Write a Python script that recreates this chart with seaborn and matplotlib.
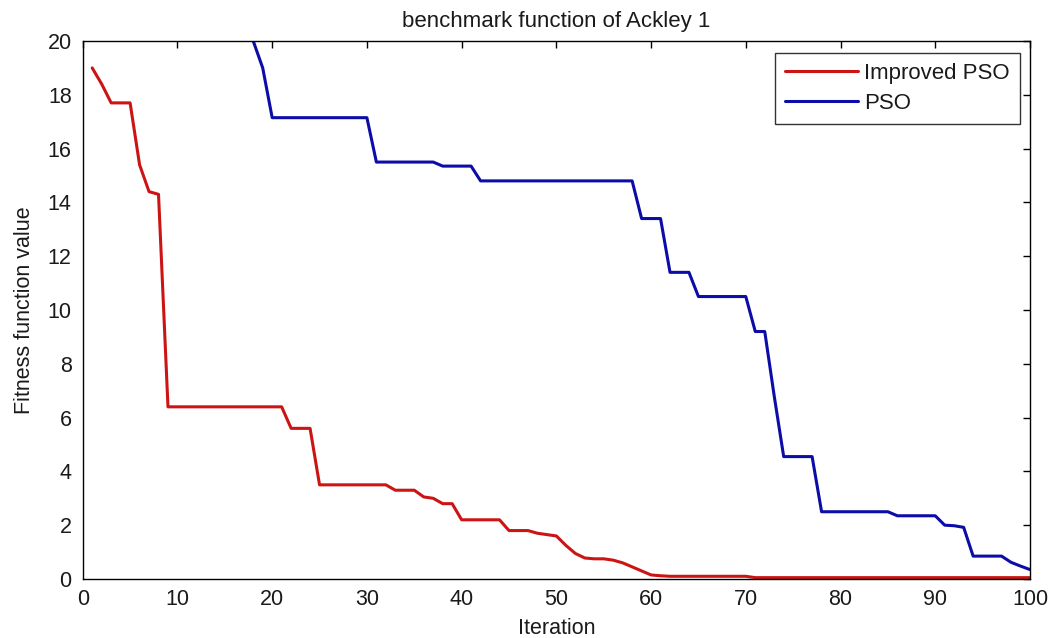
import numpy as np
import pandas as pd
import matplotlib
matplotlib.use("Agg")
import matplotlib.pyplot as plt
import seaborn as sns

iterations = list(range(1, 101))

improved_pso = [
    19.0, 18.4, 17.7, 17.7, 17.7, 15.4, 14.4, 14.3, 6.4, 6.4,
    6.4, 6.4, 6.4, 6.4, 6.4, 6.4, 6.4, 6.4, 6.4, 6.4,
    6.4, 5.6, 5.6, 5.6, 3.5, 3.5, 3.5, 3.5, 3.5, 3.5,
    3.5, 3.5, 3.3, 3.3, 3.3, 3.05, 3.0, 2.8, 2.8, 2.2,
    2.2, 2.2, 2.2, 2.2, 1.8, 1.8, 1.8, 1.7, 1.65, 1.6,
    1.25, 0.95, 0.78, 0.75, 0.75, 0.7, 0.6, 0.45, 0.3, 0.15,
    0.12, 0.1, 0.1, 0.1, 0.1, 0.1, 0.1, 0.1, 0.1, 0.1,
    0.05, 0.05, 0.05, 0.05, 0.05, 0.05, 0.05, 0.05, 0.05, 0.05,
    0.05, 0.05, 0.05, 0.05, 0.05, 0.05, 0.05, 0.05, 0.05, 0.05,
    0.05, 0.05, 0.05, 0.05, 0.05, 0.05, 0.05, 0.05, 0.05, 0.05,
]

pso = [
    21.8, 21.8, 21.7, 21.7, 21.6, 21.6, 21.5, 21.5, 21.4, 21.4,
    21.3, 21.3, 21.2, 21.1, 21.0, 20.9, 20.8, 20.0, 19.0, 17.15,
    17.15, 17.15, 17.15, 17.15, 17.15, 17.15, 17.15, 17.15, 17.15, 17.15,
    15.5, 15.5, 15.5, 15.5, 15.5, 15.5, 15.5, 15.35, 15.35, 15.35,
    15.35, 14.8, 14.8, 14.8, 14.8, 14.8, 14.8, 14.8, 14.8, 14.8,
    14.8, 14.8, 14.8, 14.8, 14.8, 14.8, 14.8, 14.8, 13.4, 13.4,
    13.4, 11.4, 11.4, 11.4, 10.5, 10.5, 10.5, 10.5, 10.5, 10.5,
    9.2, 9.2, 6.8, 4.55, 4.55, 4.55, 4.55, 2.5, 2.5, 2.5,
    2.5, 2.5, 2.5, 2.5, 2.5, 2.35, 2.35, 2.35, 2.35, 2.35,
    2.0, 1.98, 1.92, 0.85, 0.85, 0.85, 0.85, 0.62, 0.48, 0.35,
]

series_names = ["Improved PSO", "PSO"]
series_colors = ["#cc1414", "#0c0ca8"]

df = pd.concat([
    pd.DataFrame({"Iteration": iterations, "value": improved_pso, "method": series_names[0]}),
    pd.DataFrame({"Iteration": iterations, "value": pso, "method": series_names[1]}),
])

sns.set_theme(style="white")
plt.rcParams["font.family"] = ["Liberation Sans", "DejaVu Sans"]
plt.rcParams["text.color"] = "#1a1a1a"
plt.rcParams["axes.labelcolor"] = "#1a1a1a"

fig = plt.figure(figsize=(10.54, 6.38), dpi=100)
ax = fig.add_axes([0.0785, 0.0925, 0.9772 - 0.0785, 0.9357 - 0.0925])

sns.lineplot(data=df, x="Iteration", y="value", hue="method",
             palette=dict(zip(series_names, series_colors)),
             linewidth=2.2, ax=ax, legend=True)

ax.set_xlim(0, 100)
ax.set_ylim(0, 20)
ax.set_xticks(range(0, 101, 10))
ax.set_yticks(range(0, 21, 2))
ax.tick_params(direction="in", length=5, width=1, top=True, right=True,
               labelsize=15.5, colors="black", labelcolor="#1a1a1a")
ax.tick_params(axis="x", pad=7)
ax.tick_params(axis="y", pad=8)
for s in ax.spines.values():
    s.set_color("black")
    s.set_linewidth(1.0)
ax.set_xlabel("Iteration", fontsize=15.5, labelpad=6)
ax.set_ylabel("Fitness function value", fontsize=15.5, labelpad=9)
ax.set_title("benchmark function of Ackley 1", fontsize=16, pad=10)

leg = ax.legend(loc="upper right", bbox_to_anchor=(0.989, 0.978), borderaxespad=0,
                fontsize=16, frameon=True, fancybox=False, edgecolor="black",
                handlelength=3.3, handletextpad=0.25, labelspacing=0.4,
                borderpad=0.45)
leg.get_frame().set_linewidth(1.0)
for line in leg.get_lines():
    line.set_linewidth(2.2)

fig.savefig("out.png", dpi=100)
